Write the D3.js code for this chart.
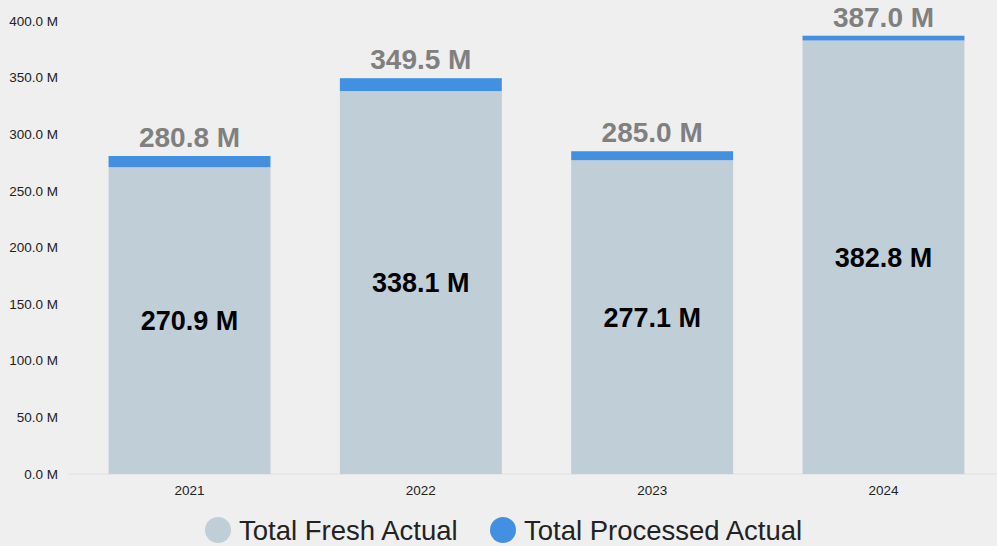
<!DOCTYPE html>
<html><head><meta charset="utf-8">
<script src="https://cdn.jsdelivr.net/npm/d3@7"></script>
<style>
html,body{margin:0;padding:0;background:#efefef;}
svg{display:block;font-family:"Liberation Sans",Arial,sans-serif;}
</style></head><body>
<svg id="c" width="997" height="546"></svg>
<script>
const years = ["2021","2022","2023","2024"];
const fresh = [270.9, 338.1, 277.1, 382.8];
const processed = [9.9, 11.4, 7.9, 4.2];
const totals = [280.8, 349.5, 285.0, 387.0];
const yTicks = [0,50,100,150,200,250,300,350,400];
const seriesNames = ["Total Fresh Actual","Total Processed Actual"];
const colors = ["#c0ced7","#4390e0"];

const svg = d3.select("#c");
const x = d3.scaleBand().domain(years).range([72,1001]).paddingInner(0.3).paddingOuter(0.158);
const y = d3.scaleLinear().domain([0,400]).range([474,21]);

// baseline
svg.append("line").attr("x1",68).attr("x2",997).attr("y1",y(0)).attr("y2",y(0))
  .attr("stroke","#dde0e8").attr("stroke-width",1);

// y axis labels
svg.append("g").selectAll("text").data(yTicks).join("text")
  .attr("x",58).attr("y",d=>y(d)).attr("dy","0.35em").attr("text-anchor","end")
  .attr("font-size",13.5).attr("fill","#222").text(d=>d.toFixed(1)+" M");

// x labels
svg.append("g").selectAll("text").data(years).join("text")
  .attr("x",d=>x(d)+x.bandwidth()/2).attr("y",490).attr("dy","0.35em").attr("text-anchor","middle")
  .attr("font-size",13.5).attr("fill","#222").text(d=>d);

// fresh bars
svg.append("g").selectAll("rect").data(years).join("rect")
  .attr("x",d=>x(d)).attr("width",x.bandwidth())
  .attr("y",(d,i)=>y(fresh[i])).attr("height",(d,i)=>y(0)-y(fresh[i]))
  .attr("fill",colors[0]);
// processed bars
svg.append("g").selectAll("rect").data(years).join("rect")
  .attr("x",d=>x(d)).attr("width",x.bandwidth())
  .attr("y",(d,i)=>y(fresh[i]+processed[i])).attr("height",(d,i)=>y(fresh[i])-y(fresh[i]+processed[i]))
  .attr("fill",colors[1]);

// inner labels
svg.append("g").selectAll("text").data(years).join("text")
  .attr("x",d=>x(d)+x.bandwidth()/2).attr("y",(d,i)=>(y(0)+y(fresh[i]))/2).attr("dy","0.35em")
  .attr("text-anchor","middle").attr("font-size",27).attr("font-weight","bold").attr("fill","#000")
  .text((d,i)=>fresh[i].toFixed(1)+" M");

// total labels
svg.append("g").selectAll("text").data(years).join("text")
  .attr("x",d=>x(d)+x.bandwidth()/2).attr("y",(d,i)=>y(totals[i])-9)
  .attr("text-anchor","middle").attr("font-size",28).attr("font-weight","bold").attr("fill","#808080")
  .text((d,i)=>totals[i].toFixed(1)+" M");

// legend
const lg = svg.append("g");
const legX = [218, 503];
seriesNames.forEach((n,i)=>{
  lg.append("circle").attr("cx",legX[i]).attr("cy",530).attr("r",13).attr("fill",colors[i]);
  lg.append("text").attr("x",legX[i]+21).attr("y",530).attr("dy","0.35em")
    .attr("font-size",27.5).attr("fill","#222").text(n);
});
</script>
</body></html>
